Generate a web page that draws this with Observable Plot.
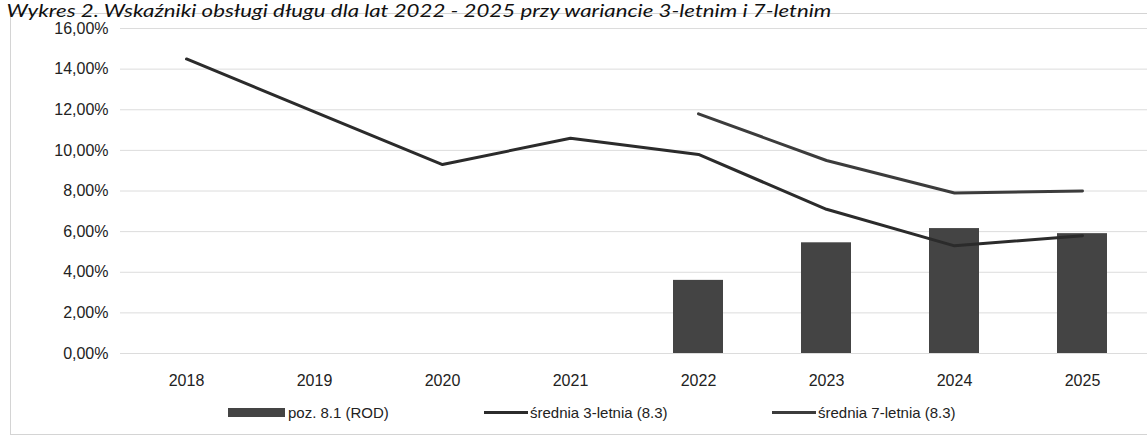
<!DOCTYPE html>
<html>
<head>
<meta charset="utf-8">
<script src="https://cdn.jsdelivr.net/npm/d3@7"></script>
<script src="https://cdn.jsdelivr.net/npm/@observablehq/plot@0.6"></script>
<style>
  html, body { margin: 0; padding: 0; background: #fff; }
  #wrap { position: relative; width: 1147px; height: 441px; overflow: hidden; background: #fff; font-family: "Liberation Sans", Arial, sans-serif; }
  #frame { position: absolute; left: 10px; top: 13px; width: 1150px; height: 420px; border: 1px solid #d4d4d4; border-right: none; }
  #title { position: absolute; left: 4px; top: 1px; padding: 1px 2px 0 2px; font-family: Lato, "Open Sans", sans-serif; font-style: italic; font-size: 17px; line-height: 18px; white-space: nowrap; color: #111; transform-origin: 0 0; }
  #chart { position: absolute; left: 0; top: 0; }
  .leg { position: absolute; top: 402px; height: 20px; display: flex; align-items: center; font-size: 15px; color: #222; white-space: nowrap; }
  .sw-bar { width: 57px; height: 9px; background: #444; margin-right: 3px; }
  .sw-line { width: 44px; height: 3px; margin-right: 2px; }
</style>
</head>
<body>
<div id="wrap">
  <div id="frame"></div>
  <div id="chart"></div>
  <div id="title">Wykres 2. Wskaźniki obsługi długu dla lat 2022 - 2025 przy wariancie 3-letnim i 7-letnim</div>
  <div id="legend"></div>
</div>
<script>
// ---- data ----
const years = ["2018", "2019", "2020", "2021", "2022", "2023", "2024", "2025"];
const rodYears = ["2022", "2023", "2024", "2025"];
const rodValues = [0.036, 0.0545, 0.0615, 0.059];
const avg3Years = ["2018", "2019", "2020", "2021", "2022", "2023", "2024", "2025"];
const avg3Values = [0.145, 0.119, 0.093, 0.106, 0.098, 0.071, 0.053, 0.058];
const avg7Years = ["2022", "2023", "2024", "2025"];
const avg7Values = [0.118, 0.095, 0.079, 0.080];
const yTicks = [0, 0.02, 0.04, 0.06, 0.08, 0.10, 0.12, 0.14, 0.16];
const seriesNames = ["poz. 8.1 (ROD)", "średnia 3-letnia (8.3)", "średnia 7-letnia (8.3)"];
const seriesColors = ["#444444", "#2b2b2b", "#3c3c3c"];

const rod = rodYears.map((y, i) => ({year: y, value: rodValues[i]}));
const avg3 = avg3Years.map((y, i) => ({year: y, value: avg3Values[i]}));
const avg7 = avg7Years.map((y, i) => ({year: y, value: avg7Values[i]}));
const pct = d => (d * 100).toFixed(2).replace(".", ",") + "%";

const chart = Plot.plot({
  width: 1147,
  height: 395,
  marginLeft: 120,
  marginRight: 0,
  marginTop: 28,
  marginBottom: 42,
  style: {fontFamily: "'Liberation Sans', Arial, sans-serif", fontSize: "16px", color: "#222", background: "transparent"},
  x: {domain: years, paddingInner: 0.61, paddingOuter: 0.305, label: null},
  y: {domain: [0, 0.16], label: null},
  marks: [
    Plot.ruleY(yTicks, {stroke: "#dcdcdc", strokeWidth: 1}),
    Plot.barY(rod, {x: "year", y: "value", fill: seriesColors[0]}),
    Plot.line(avg3, {x: "year", y: "value", stroke: seriesColors[1], strokeWidth: 3}),
    Plot.line(avg7, {x: "year", y: "value", stroke: seriesColors[2], strokeWidth: 3}),
    Plot.axisY({ticks: yTicks, tickFormat: pct, tickSize: 0, tickPadding: 12, label: null}),
    Plot.axisX({tickSize: 0, tickPadding: 21, label: null})
  ]
});
document.getElementById("chart").appendChild(chart);

// legend
const legend = document.getElementById("legend");
const legPos = [228, 484, 772];
seriesNames.forEach((name, i) => {
  const item = document.createElement("div");
  item.className = "leg";
  item.style.left = legPos[i] + "px";
  const sw = document.createElement("div");
  sw.className = i === 0 ? "sw-bar" : "sw-line";
  sw.style.background = seriesColors[i];
  const t = document.createElement("span");
  t.textContent = name;
  item.appendChild(sw);
  item.appendChild(t);
  legend.appendChild(item);
});

// fit title width to the reference
const title = document.getElementById("title");
const w = title.getBoundingClientRect().width;
title.style.transform = `scaleX(${830 / w})`;
</script>
</body>
</html>
